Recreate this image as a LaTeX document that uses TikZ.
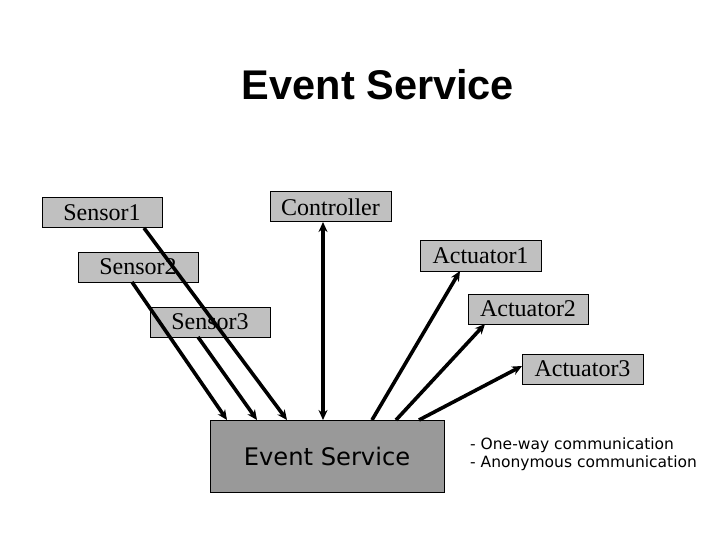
\documentclass[tikz,border=0pt]{standalone}
\usepackage{fontspec}
\setmainfont{Liberation Serif}
\newfontfamily\arialfont{Liberation Sans}
\newfontfamily\verdfont{DejaVu Sans}
\usetikzlibrary{arrows.meta}
\definecolor{boxgray}{HTML}{C0C0C0}
\definecolor{esgray}{HTML}{999999}
\tikzset{
  compbox/.style={draw=black, line width=1pt, fill=boxgray, inner sep=0pt, font=\fontsize{24}{26}\selectfont},
  esbox/.style={draw=black, line width=1pt, fill=esgray, inner sep=0pt, font=\verdfont\fontsize{24.2}{27}\selectfont},
  conn/.style={line width=3.6pt, -{Stealth[length=10pt,width=9pt]}},
  biconn/.style={line width=3.6pt, {Stealth[length=10pt,width=9pt]}-{Stealth[length=10pt,width=9pt]}},
  legtext/.style={font=\verdfont\fontsize{15.5}{18}\selectfont, anchor=base west, inner sep=0pt}
}
\begin{document}
\begin{tikzpicture}[x=1pt,y=-1pt]
\path[use as bounding box, fill=white] (0,0) rectangle (720,540);
\node[font=\arialfont\bfseries\fontsize{41.5}{46}\selectfont, anchor=base] (title) at (378,100) {Event Service};
% component boxes
\node[compbox, minimum width=120pt, minimum height=30pt] (s1) at (102,213) {Sensor1};
\node[compbox, minimum width=121pt, minimum height=30pt] (ctl) at (330.5,207) {Controller};
\node[compbox, minimum width=120pt, minimum height=30pt] (s2) at (138,267) {Sensor2};
\node[compbox, minimum width=120pt, minimum height=30pt] (s3) at (210,322) {Sensor3};
\node[compbox, minimum width=121pt, minimum height=31pt] (a1) at (480.5,255.5) {Actuator1};
\node[compbox, minimum width=120pt, minimum height=30pt] (a2) at (528,309) {Actuator2};
\node[compbox, minimum width=121pt, minimum height=30pt] (a3) at (582.5,369) {Actuator3};
\node[esbox, minimum width=234pt, minimum height=72pt] (es) at (327,456) {Event Service};
% connector anchors
\coordinate (s1o) at (144,228);
\coordinate (s2o) at (132,282);
\coordinate (s3o) at (198,337);
\coordinate (e1) at (287,420);
\coordinate (e2) at (227,420);
\coordinate (e3) at (257,420);
\coordinate (ec) at (323,420);
\coordinate (cc) at (323,222);
\coordinate (f1) at (372,420);
\coordinate (f2) at (396,420);
\coordinate (f3) at (419,420);
\coordinate (a1i) at (460,271);
\coordinate (a2i) at (485,324);
\coordinate (a3i) at (522,366);
\draw[conn] (s1o) -- (e1);
\draw[conn] (s2o) -- (e2);
\draw[conn] (s3o) -- (e3);
\draw[biconn] (ec) -- (cc);
\draw[conn] (f1) -- (a1i);
\draw[conn] (f2) -- (a2i);
\draw[conn] (f3) -- (a3i);
% legend
\node[legtext] (leg1) at (470,449) {- One-way communication};
\node[legtext] (leg2) at (470,467) {- Anonymous communication};
\end{tikzpicture}
\end{document}
